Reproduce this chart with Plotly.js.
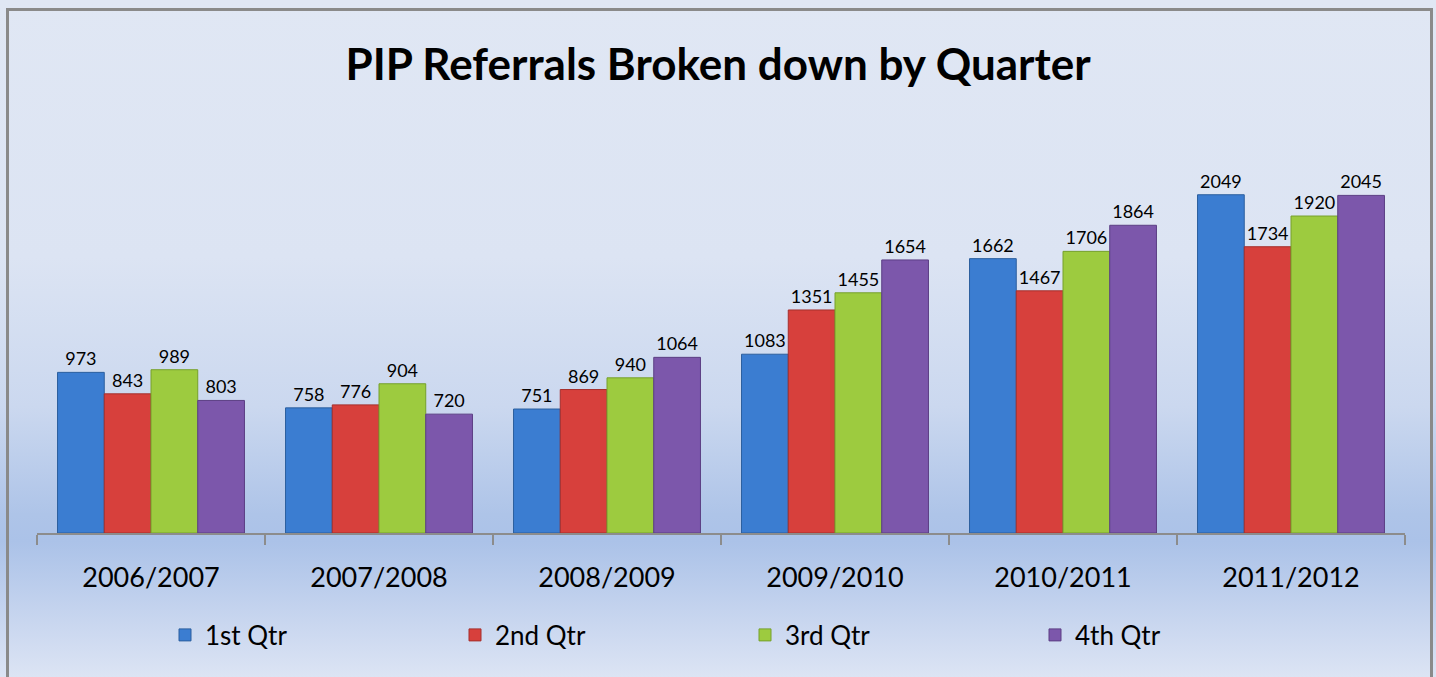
<!DOCTYPE html>
<html>
<head>
<meta charset="utf-8">
<script src="https://cdn.plot.ly/plotly-3.0.1.min.js"></script>
<style>
  html, body { margin: 0; padding: 0; width: 1436px; height: 677px; overflow: hidden; }
  #wrap { position: relative; width: 1436px; height: 677px;
    background: linear-gradient(to bottom, #e0e7f4 0%, #dce4f3 38%, #cbd8ef 60%, #aec4e8 76%, #abc2e8 80%, #c4d3ee 90%, #dce4f4 100%); }
  #chart { position: absolute; left: 0; top: 0; width: 1436px; height: 677px; }
  #frame { position: absolute; left: 6px; top: 8px; width: 1421px; height: 680px;
    border: 3px solid #8a8a8a; box-sizing: content-box; pointer-events: none; }
</style>
</head>
<body>
<div id="wrap">
  <div id="chart"></div>
  <div id="frame"></div>
</div>
<script>
const categories = ["2006/2007", "2007/2008", "2008/2009", "2009/2010", "2010/2011", "2011/2012"];
const seriesNames = ["1st Qtr", "2nd Qtr", "3rd Qtr", "4th Qtr"];
const q1 = [973, 758, 751, 1083, 1662, 2049];
const q2 = [843, 776, 869, 1351, 1467, 1734];
const q3 = [989, 904, 940, 1455, 1706, 1920];
const q4 = [803, 720, 1064, 1654, 1864, 2045];
const chartTitle = "PIP Referrals Broken down by Quarter";

const seriesValues = [q1, q2, q3, q4];
const fills = ["#3b7dd1", "#d7403c", "#9dcb3f", "#7c57ab"];
const edges = ["#2c5f9e", "#a52f2c", "#76a02c", "#5c3f84"];

const FONT = "Lato, 'Open Sans', sans-serif";

const traces = seriesValues.map((vals, i) => ({
  type: "bar",
  name: seriesNames[i],
  x: categories,
  y: vals,
  text: vals.map(String),
  textposition: "outside",
  textfont: { family: FONT, size: 18, color: "#000" },
  cliponaxis: false,
  marker: { color: fills[i], line: { color: edges[i], width: 1 } },
  hoverinfo: "x+y+name"
}));

const layout = {
  width: 1436,
  height: 677,
  paper_bgcolor: "rgba(0,0,0,0)",
  plot_bgcolor: "rgba(0,0,0,0)",
  margin: { l: 37, r: 31, t: 150, b: 144 },
  barmode: "group",
  bargap: 0.18,
  bargroupgap: 0,
  title: {
    text: "<b>" + chartTitle + "</b>",
    font: { family: FONT, size: 44, color: "#000" },
    x: 0.5, xanchor: "center",
    y: 1 - 65 / 677, yanchor: "middle", yref: "container"
  },
  xaxis: {
    type: "category",
    range: [-0.5, 5.5],
    showgrid: false,
    showline: true,
    linecolor: "#8c8c8c",
    linewidth: 2,
    ticks: "outside",
    tickson: "boundaries",
    ticklen: 10,
    tickwidth: 2,
    tickcolor: "#8c8c8c",
    ticklabelstandoff: 20,
    tickfont: { family: FONT, size: 27, color: "#000" },
    zeroline: false
  },
  yaxis: {
    range: [0, 2320],
    visible: false,
    showgrid: false,
    zeroline: false
  },
  showlegend: true,
  legend: {
    orientation: "h",
    x: (165 - 37) / 1368,
    xanchor: "left",
    y: (533 - 635) / 383,
    yanchor: "middle",
    bgcolor: "rgba(0,0,0,0)",
    font: { family: FONT, size: 26, color: "#000" },
    entrywidth: 245,
    entrywidthmode: "pixels",
    traceorder: "normal"
  }
};

Plotly.newPlot("chart", traces, layout, { displayModeBar: false, responsive: false });
</script>
</body>
</html>
